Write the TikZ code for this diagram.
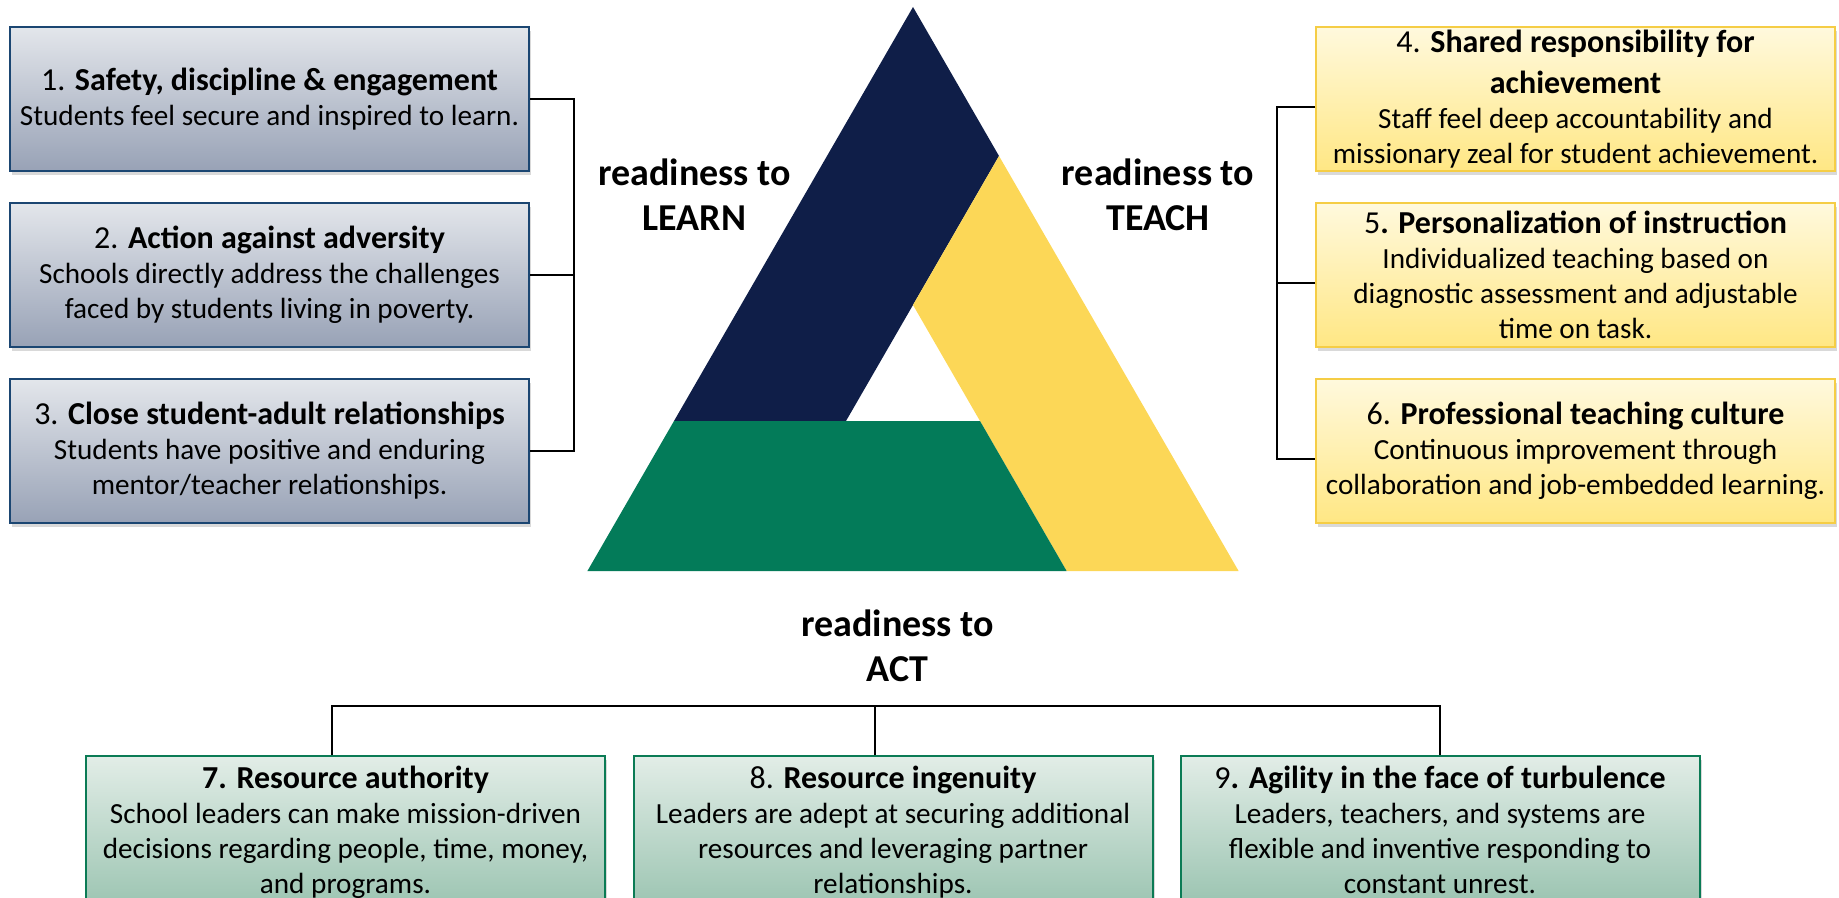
\documentclass[tikz,border=0pt]{standalone}
\usepackage{fontspec}
\setmainfont{Carlito}
\usetikzlibrary{shadows}
\definecolor{navyband}{HTML}{0F1E48}
\definecolor{greenband}{HTML}{037B59}
\definecolor{goldband}{HTML}{FCD757}
\definecolor{learnline}{HTML}{1B4672}
\definecolor{learntop}{HTML}{E3E6EB}
\definecolor{learnbot}{HTML}{98A2B6}
\definecolor{teachline}{HTML}{F5CD45}
\definecolor{teachtop}{HTML}{FFF9DD}
\definecolor{teachbot}{HTML}{FFE784}
\definecolor{actline}{HTML}{0B7B55}
\definecolor{acttop}{HTML}{E2EDE7}
\definecolor{actbot}{HTML}{9BC4B1}
\newcommand{\hdsize}{\fontsize{16}{19}\selectfont}
\tikzstyle{box}=[draw,line width=1pt,align=center,minimum width=259.5pt,font=\fontsize{14.6}{17.5}\selectfont,drop shadow={shadow xshift=1pt,shadow yshift=-2pt,opacity=0.3}]
\tikzstyle{learnbox}=[box,draw=learnline,top color=learntop,bottom color=learnbot,minimum height=72pt]
\tikzstyle{teachbox}=[box,draw=teachline,top color=teachtop,bottom color=teachbot,minimum height=72pt]
\tikzstyle{actbox}=[box,draw=actline,top color=acttop,bottom color=actbot,anchor=north,inner ysep=5pt]
\tikzstyle{link}=[draw,line width=1pt,black]
\tikzstyle{heading}=[align=center,font=\fontsize{19}{22.5}\selectfont\bfseries]

\begin{document}
\begin{tikzpicture}[x=0.5pt,y=-0.5pt]
        \useasboundingbox (0,0) rectangle (1839,898);
        \clip (0,0) rectangle (1839,898);

        % triangle
        \fill[navyband] (913,7) -- (674,421) -- (846,421) -- (999,156) -- cycle;
        \fill[goldband] (999,156) -- (1238.6,571) -- (1066.6,571) -- (913,305) -- cycle;
        \fill[greenband] (587.4,571) -- (1066.6,571) -- (980,421) -- (674,421) -- cycle;

        \node[heading] (learn) at (694.5,194.5) {readiness to\\LEARN};
        \node[heading] (teach) at (1158,194.5) {readiness to\\TEACH};
        \node[heading] (act) at (897.5,645.5) {readiness to\\ACT};

        % readiness to learn
        \node[learnbox] (b1) at (269.5,99) {{\hdsize 1. \textbf{Safety, discipline \& engagement}}\\Students feel secure and inspired to learn.};
        \node[learnbox] (b2) at (269.5,275) {{\hdsize 2. \textbf{Action against adversity}}\\Schools directly address the challenges\\faced by students living in poverty.};
        \node[learnbox] (b3) at (269.5,451) {{\hdsize 3. \textbf{Close student-adult relationships}}\\Students have positive and enduring\\mentor/teacher relationships.};

        % readiness to teach
        \node[teachbox,inner ysep=0.5pt] (b4) at (1575.5,99) {{\hdsize 4. \textbf{Shared responsibility for}}\\[3pt]{\hdsize\textbf{achievement}}\\Staff feel deep accountability and\\missionary zeal for student achievement.};
        \node[teachbox] (b5) at (1575.5,275) {{\hdsize 5\textbf{. Personalization of instruction}}\\Individualized teaching based on\\diagnostic assessment and adjustable\\time on task.};
        \node[teachbox] (b6) at (1575.5,451) {{\hdsize 6. \textbf{Professional teaching culture}}\\Continuous improvement through\\collaboration and job-embedded learning.};

        % readiness to act
        \node[actbox] (b7) at (345.5,755) {{\hdsize\textbf{7. Resource authority}}\\School leaders can make mission-driven\\decisions regarding people, time, money,\\and programs.};
        \node[actbox] (b8) at (893,755) {{\hdsize 8. \textbf{Resource ingenuity}}\\Leaders are adept at securing additional\\resources and leveraging partner\\relationships.};
        \node[actbox] (b9) at (1440,755) {{\hdsize 9\textbf{. Agility in the face of turbulence}}\\Leaders, teachers, and systems are\\flexible and inventive responding to\\constant unrest.};

        \path[link] (b1.east) -- ++(44,0) |- (b3.east);
        \path[link] (b2.east) -- ++(44,0);
        \path[link] ([yshift=-4pt]b4.west) -- ++(-38,0) |- ([yshift=-4pt]b6.west);
        \path[link] ([yshift=-4pt]b5.west) -- ++(-38,0);
        \path[link] ([xshift=-7pt]b7.north) -- ++(0,-49) -| (b9.north);
        \path[link] ([xshift=-9pt]b8.north) -- ++(0,-49);
    \end{tikzpicture}
\end{document}
